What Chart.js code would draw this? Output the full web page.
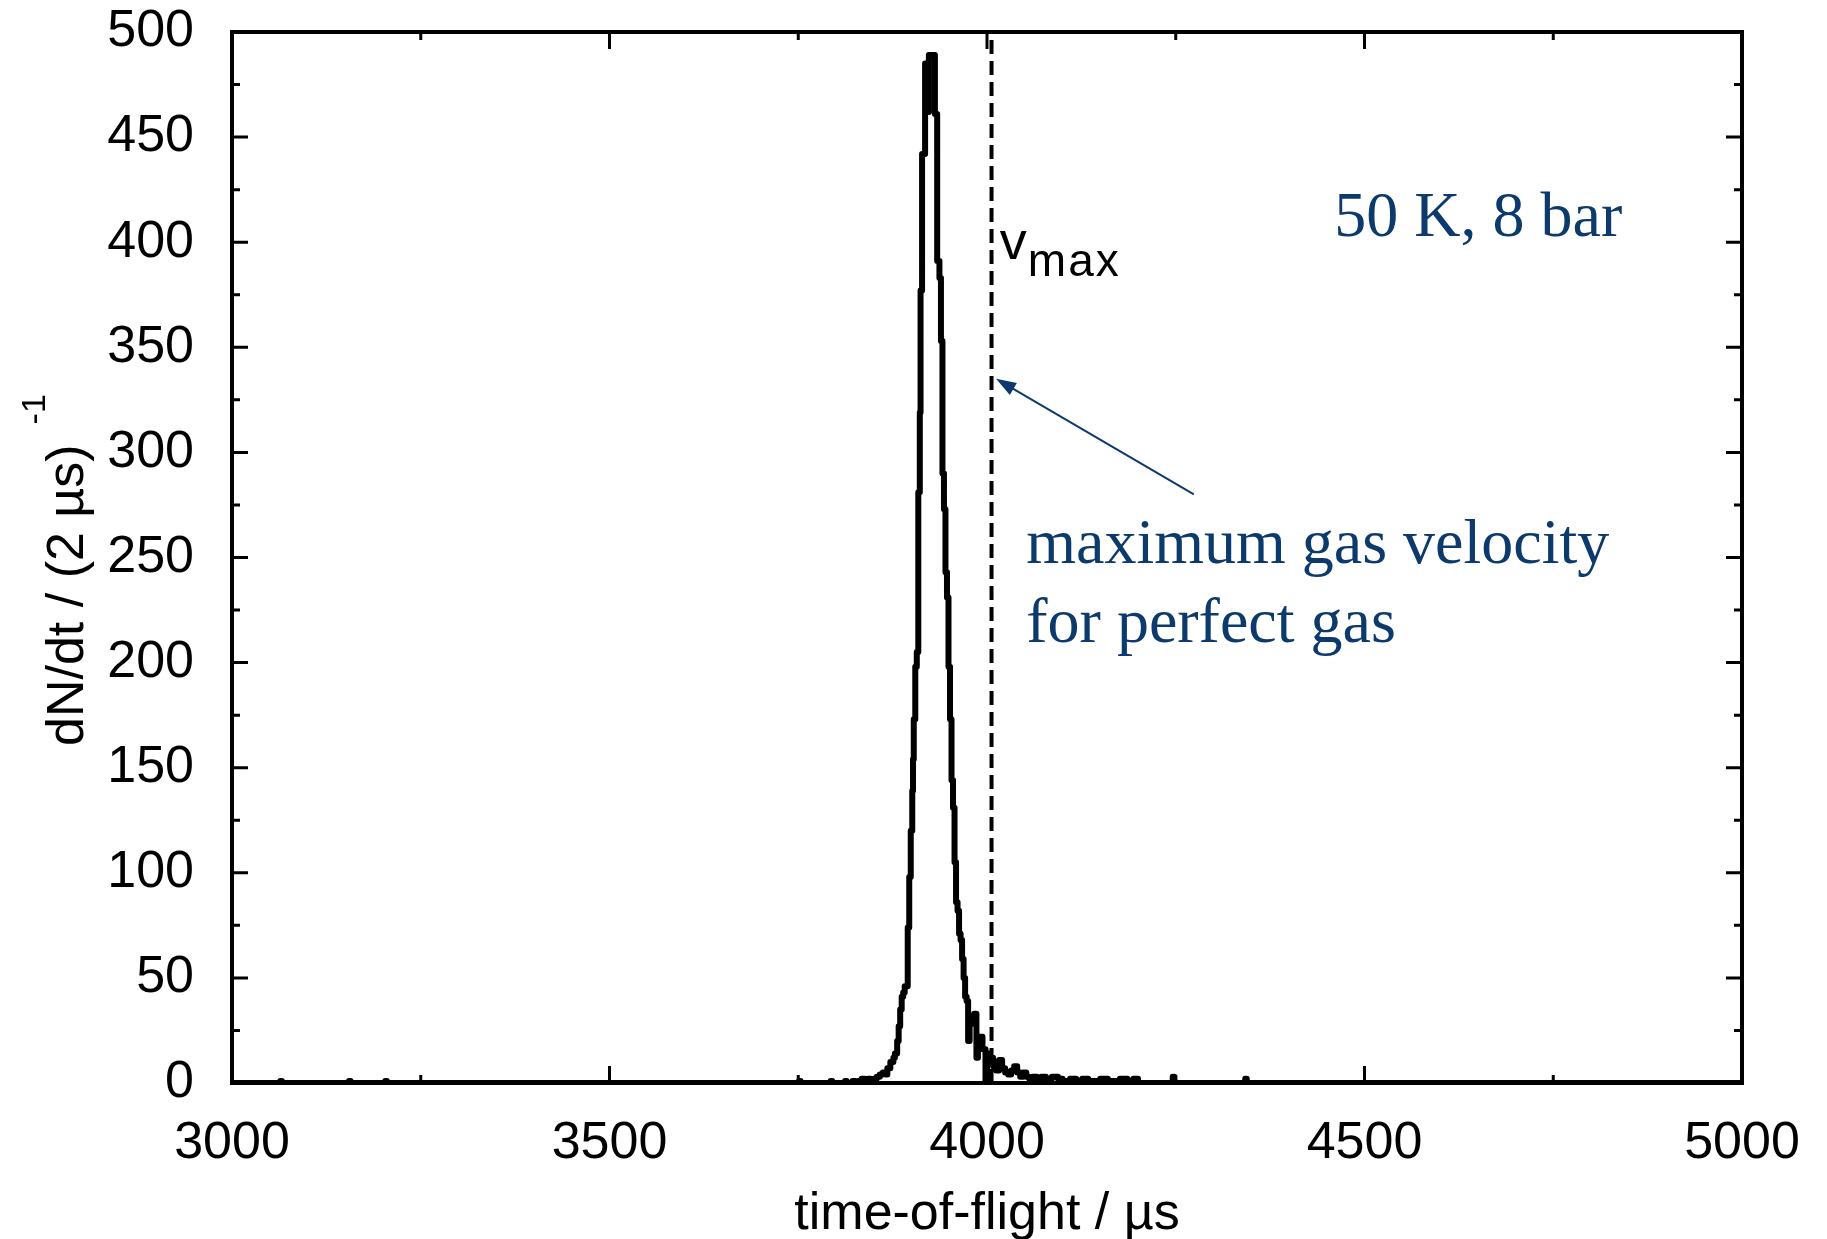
<!DOCTYPE html>
<html>
<head>
<meta charset="utf-8">
<script src="https://cdn.jsdelivr.net/npm/chart.js@4.4.1/dist/chart.umd.min.js"></script>
<style>
  html, body { margin: 0; padding: 0; background: #fff; }
  #wrap { width: 1827px; height: 1239px; }
</style>
</head>
<body>
<div id="wrap"><canvas id="tofChart"></canvas></div>
<script>
// histogram, 2 us bins: left bin edge (us) and counts
const tofUs = [3000, 3064, 3066, 3155, 3157, 3203, 3205, 3751, 3753, 3793, 3795, 3812, 3814,
  3822, 3826, 3830, 3834, 3838, 3842, 3846, 3850, 3854, 3858, 3862, 3866, 3868, 3872, 3876,
  3878, 3881, 3883, 3885, 3887, 3889, 3891, 3895, 3897, 3899, 3901, 3902, 3903, 3905, 3907,
  3909, 3911, 3912, 3914, 3918, 3921, 3923, 3931, 3934, 3937, 3939, 3941, 3943, 3945, 3947,
  3949, 3951, 3953, 3955, 3957, 3959, 3961, 3963, 3965, 3967, 3969, 3971, 3973, 3975, 3977,
  3979, 3983, 3986, 3988, 3990, 3994, 3998, 4000, 4004, 4008, 4012, 4016, 4020, 4024, 4028,
  4032, 4036, 4040, 4044, 4048, 4052, 4056, 4060, 4066, 4072, 4078, 4086, 4094, 4100, 4110,
  4118, 4126, 4134, 4150, 4160, 4176, 4186, 4194, 4200, 4246, 4248, 4342, 4344, 5000];
const counts = [0, 1, 0, 1, 0, 1, 0, 1, 0, 1, 0, 1, 0,
  1, 0, 1, 2, 1, 2, 1, 2, 3, 4, 5, 4, 7, 10, 12,
  14, 20, 27, 35, 41, 43, 46, 74, 98, 120, 139, 154, 173, 198, 205,
  281, 319, 377, 442, 485, 462, 489, 461, 391, 383, 353, 290, 273, 243, 231,
  198, 173, 144, 131, 105, 86, 82, 71, 68, 59, 50, 41, 39, 20, 28,
  31, 33, 12, 18, 22, 16, 1, 14, 12, 8, 6, 11, 7, 5, 4,
  6, 8, 5, 3, 5, 3, 2, 3, 2, 3, 2, 3, 2, 1, 2,
  1, 2, 1, 2, 1, 2, 1, 2, 0, 3, 0, 2, 0, 0];

const vmaxUs = 4006;

const xMajor = [3000, 3500, 4000, 4500, 5000];
const xMinor = [3250, 3750, 4250, 4750];
const yMajor = [0, 50, 100, 150, 200, 250, 300, 350, 400, 450, 500];
const yMinor = [25, 75, 125, 175, 225, 275, 325, 375, 425, 475];

const navy = '#0d3a6c';
const sans = '"Liberation Sans", Arial, Helvetica, sans-serif';
const serif = '"Liberation Serif", "Times New Roman", serif';

const histo = tofUs.map((t, i) => ({ x: t, y: counts[i] }));

// frame, inward ticks and the annotations
const framePlugin = {
  id: 'frame',
  afterDatasetsDraw(chart) {
    const { ctx, chartArea: a, scales: { x, y } } = chart;
    ctx.save();
    ctx.strokeStyle = '#000';
    ctx.lineCap = 'butt';
    ctx.lineWidth = 3;
    const xt = (vals, len) => vals.forEach(v => {
      const px = x.getPixelForValue(v);
      ctx.beginPath();
      ctx.moveTo(px, a.bottom); ctx.lineTo(px, a.bottom - len);
      ctx.moveTo(px, a.top); ctx.lineTo(px, a.top + len);
      ctx.stroke();
    });
    const yt = (vals, len) => vals.forEach(v => {
      const py = y.getPixelForValue(v);
      ctx.beginPath();
      ctx.moveTo(a.left, py); ctx.lineTo(a.left + len, py);
      ctx.moveTo(a.right, py); ctx.lineTo(a.right - len, py);
      ctx.stroke();
    });
    xt(xMajor, 17); xt(xMinor, 8);
    yt(yMajor, 16); yt(yMinor, 8);
    ctx.lineWidth = 4;
    ctx.strokeRect(a.left, a.top, a.right - a.left, a.bottom - a.top);
    ctx.restore();
  },
  afterDraw(chart) {
    const { ctx, scales: { x, y } } = chart;
    ctx.save();

    // y axis title with superscript
    ctx.translate(83, 746);
    ctx.rotate(-Math.PI / 2);
    ctx.fillStyle = '#000';
    ctx.font = '52px ' + sans;
    ctx.textBaseline = 'alphabetic';
    const main = 'dN/dt / (2 \u00b5s)';
    ctx.fillText(main, 0, 0);
    const w = ctx.measureText(main).width;
    ctx.font = '34px ' + sans;
    ctx.fillText('-1', w + 20, -38);
    ctx.restore();

    // v_max label
    ctx.save();
    ctx.fillStyle = '#000';
    ctx.font = '54px ' + sans;
    const vx = x.getPixelForValue(4017), vy = y.getPixelForValue(392);
    ctx.fillText('v', vx, vy);
    ctx.font = '46px ' + sans;
    ctx.letterSpacing = '2px';
    ctx.fillText('max', vx + 28, vy + 17);
    ctx.restore();

    // serif annotations
    ctx.save();
    ctx.fillStyle = navy;
    ctx.font = '64px ' + serif;
    ctx.fillText('50 K, 8 bar', x.getPixelForValue(4460), y.getPixelForValue(403));
    ctx.fillText('maximum gas velocity', x.getPixelForValue(4052), y.getPixelForValue(247.5));
    ctx.fillText('for perfect gas', x.getPixelForValue(4052), y.getPixelForValue(210));
    ctx.restore();

    // arrow to the v_max line
    const x0 = x.getPixelForValue(4274), y0 = y.getPixelForValue(280);
    const x1 = x.getPixelForValue(4012), y1 = y.getPixelForValue(335);
    const ang = Math.atan2(y1 - y0, x1 - x0);
    ctx.save();
    ctx.strokeStyle = navy;
    ctx.fillStyle = navy;
    ctx.lineWidth = 2;
    ctx.beginPath();
    ctx.moveTo(x0, y0);
    ctx.lineTo(x1 - 14 * Math.cos(ang), y1 - 14 * Math.sin(ang));
    ctx.stroke();
    ctx.beginPath();
    ctx.moveTo(x1, y1);
    ctx.lineTo(x1 - 20 * Math.cos(ang) + 7 * Math.sin(ang), y1 - 20 * Math.sin(ang) - 7 * Math.cos(ang));
    ctx.lineTo(x1 - 20 * Math.cos(ang) - 7 * Math.sin(ang), y1 - 20 * Math.sin(ang) + 7 * Math.cos(ang));
    ctx.closePath();
    ctx.fill();
    ctx.restore();
  }
};

new Chart(document.getElementById('tofChart'), {
  type: 'line',
  data: {
    datasets: [
      {
        data: histo,
        stepped: true,
        borderColor: '#000',
        borderWidth: 6,
        borderJoinStyle: 'round',
        borderCapStyle: 'round',
        pointRadius: 0,
        fill: false
      },
      {
        data: [{ x: vmaxUs, y: 0 }, { x: vmaxUs, y: 500 }],
        borderColor: '#000',
        borderWidth: 4,
        borderDash: [14, 7],
        pointRadius: 0,
        fill: false
      }
    ]
  },
  options: {
    responsive: true,
    maintainAspectRatio: false,
    devicePixelRatio: 1,
    animation: false,
    layout: { padding: { left: 0, top: 32, right: 85, bottom: 0 } },
    plugins: { legend: { display: false }, tooltip: { enabled: false } },
    scales: {
      x: {
        type: 'linear',
        min: 3000,
        max: 5000,
        afterBuildTicks: s => { s.ticks = xMajor.map(v => ({ value: v })); },
        afterFit: s => { s.height = 156; s.paddingLeft = 0; s.paddingRight = 0; },
        grid: { display: false, drawTicks: false },
        border: { display: false },
        ticks: {
          color: '#000', font: { family: sans, size: 52 }, padding: 29, maxRotation: 0,
          callback: v => String(v)
        },
        title: {
          display: true,
          text: 'time-of-flight / \u00b5s',
          color: '#000',
          font: { family: sans, size: 52, lineHeight: 0.8 },
          padding: { top: 0, bottom: 4 }
        }
      },
      y: {
        min: 0,
        max: 500,
        afterBuildTicks: s => { s.ticks = yMajor.map(v => ({ value: v })); },
        afterFit: s => { s.width = 232; s.paddingTop = 0; s.paddingBottom = 0; },
        grid: { display: false, drawTicks: false },
        border: { display: false },
        ticks: { color: '#000', font: { family: sans, size: 52 }, padding: 38, callback: v => String(v) }
      }
    }
  },
  plugins: [framePlugin]
});
</script>
</body>
</html>
